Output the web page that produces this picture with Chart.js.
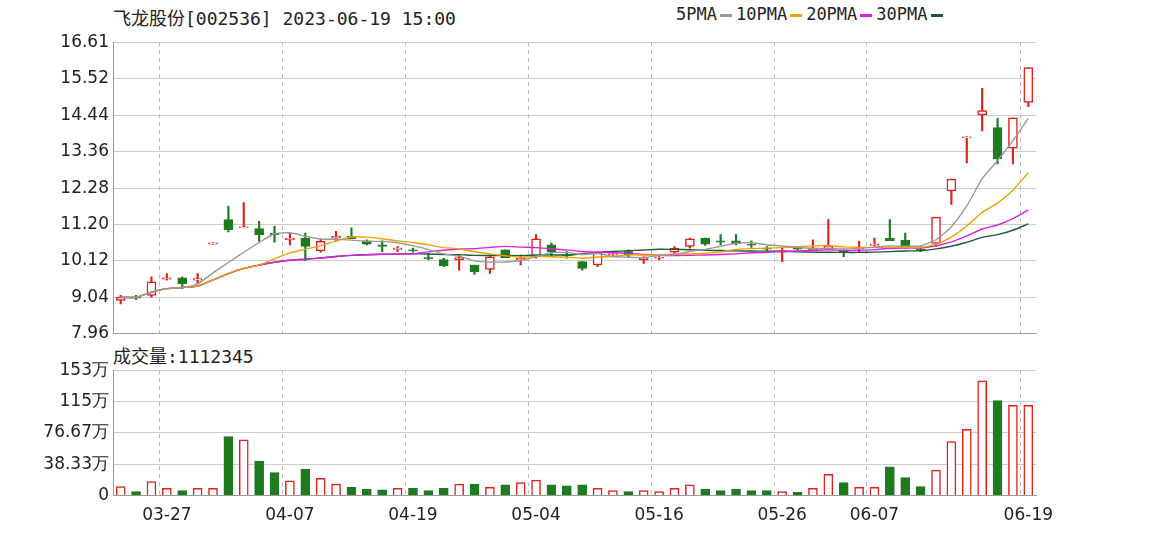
<!DOCTYPE html>
<html><head><meta charset="utf-8">
<script src="https://cdn.jsdelivr.net/npm/chart.js@4"></script>
<style>
body{margin:0;background:#fff;width:1156px;height:552px;position:relative;overflow:hidden;font-family:"Noto Sans CJK SC","DejaVu Sans",sans-serif}
#c1{position:absolute;left:0;top:28px}
#c2{position:absolute;left:0;top:356px}
.t{position:absolute;font-size:18px;color:#222;white-space:nowrap}
.d{display:inline-block;width:12px;height:3px;vertical-align:middle;margin:0 4px 0 3px}
</style></head><body>
<div class="t" style="left:113px;top:4px;font-family:'DejaVu Sans Mono','Noto Sans CJK SC';font-size:18px">飞龙股份[002536] 2023-06-19 15:00</div>
<div class="t" style="left:676px;top:4px;font-family:'DejaVu Sans Mono';font-size:17px">5PMA<span class="d" style="background:#999"></span>10PMA<span class="d" style="background:#f0a000"></span>20PMA<span class="d" style="background:#e020e0"></span>30PMA<span class="d" style="background:#1a5c3a"></span></div>
<div class="t" style="left:113px;top:342px;font-family:'DejaVu Sans Mono','Noto Sans CJK SC';font-size:18px">成交量:1112345</div>
<canvas id="c1" width="1156" height="320"></canvas>
<canvas id="c2" width="1156" height="192"></canvas>
<script>
const dates = ["03-22","03-23","03-24","03-27","03-28","03-29","03-30","03-31","04-03","04-04","04-06","04-07","04-10","04-11","04-12","04-13","04-14","04-17","04-18","04-19","04-20","04-21","04-24","04-25","04-26","04-27","04-28","05-04","05-05","05-08","05-09","05-10","05-11","05-12","05-15","05-16","05-17","05-18","05-19","05-22","05-23","05-24","05-25","05-26","05-29","05-30","05-31","06-01","06-02","06-07","06-05","06-06","06-08","06-09","06-12","06-13","06-14","06-15","06-16","06-19"];
const shownLabels = {3:"03-27",11:"04-07",19:"04-19",27:"05-04",35:"05-16",43:"05-26",49:"06-07",59:"06-19"};
const openP  = [8.95,9.05,9.10,9.58,9.62,9.55,10.62,11.35,11.10,11.08,10.95,10.75,10.80,10.42,10.80,10.85,10.72,10.60,10.46,10.45,10.22,10.16,10.15,10.00,9.87,10.45,10.15,10.25,10.60,10.30,10.10,10.00,10.31,10.40,10.15,10.20,10.38,10.55,10.80,10.72,10.72,10.62,10.50,10.38,10.50,10.45,10.48,10.42,10.48,10.58,10.80,10.74,10.48,10.64,12.20,13.77,14.45,14.08,13.47,14.82];
const closeP = [9.05,9.03,9.50,9.62,9.45,9.60,10.66,11.05,11.13,10.90,10.90,10.80,10.55,10.70,10.86,10.78,10.62,10.55,10.50,10.42,10.20,9.98,10.22,9.80,10.24,10.22,10.20,10.78,10.40,10.27,9.90,10.36,10.33,10.30,10.22,10.21,10.50,10.78,10.62,10.68,10.63,10.60,10.48,10.43,10.47,10.50,10.58,10.40,10.52,10.62,10.72,10.52,10.47,11.42,12.55,13.80,14.58,13.15,14.37,15.86];
const highP  = [9.10,9.10,9.65,9.75,9.65,9.75,10.66,11.75,11.85,11.30,11.15,10.95,10.95,10.78,11.00,11.10,10.75,10.72,10.55,10.50,10.35,10.20,10.30,10.00,10.30,10.45,10.30,10.90,10.65,10.40,10.10,10.40,10.40,10.45,10.25,10.30,10.55,10.80,10.80,10.90,10.90,10.72,10.55,10.50,10.55,10.75,11.35,10.45,10.70,10.80,11.35,10.95,10.55,11.42,12.55,13.80,15.24,14.35,14.37,15.86];
const lowP   = [8.85,8.98,9.05,9.55,9.30,9.45,10.62,10.98,11.10,10.70,10.68,10.60,10.13,10.38,10.70,10.78,10.60,10.40,10.40,10.38,10.15,9.95,9.85,9.72,9.75,10.22,10.00,10.20,10.25,10.20,9.85,9.95,10.25,10.25,10.05,10.15,10.35,10.50,10.58,10.60,10.60,10.52,10.42,10.10,10.45,10.45,10.45,10.25,10.40,10.55,10.72,10.50,10.40,10.55,11.80,13.03,13.98,13.00,13.00,14.70];
const volume = [11,5,17,9,6,9,9,72,68,42,28,18,32,21,14,10,8,7,9,9,6,9,14,14,10,13,16,19,13,12,13,9,6,5,6,5,9,13,8,6,8,6,6,5,4,9,26,16,10,10,35,22,11,31,66,81,140,116,110,110];
const priceTicks = [7.96,9.04,10.12,11.20,12.28,13.36,14.44,15.52,16.61];
const volTicks = [0,38.33,76.67,115,153];

const RED="#e0201a", GREEN="#1e7a1e";
const up = openP.map((o,i)=>closeP[i]>=o);
const col = up.map(u=>u?RED:GREEN);
function ma(n){return closeP.map((_,i)=>{const s=closeP.slice(Math.max(0,i-n+1),i+1);return s.reduce((a,b)=>a+b,0)/s.length;});}
const font={family:"DejaVu Sans",size:17};
const xCommon = (show)=>({type:"category",offset:true,
  grid:{color:(c)=> shownLabels[c.index]!==undefined ? "#bbb":"transparent", drawTicks:false},
  border:{display:true,color:"#999",dash:[4,4]},
  ticks:{display:show,autoSkip:false,maxRotation:0,color:"#222",font,padding:10,callback:(v,i)=>shownLabels[i]||""}});
const lineDs=(d,c)=>({type:"line",data:d,borderColor:c,borderWidth:1.4,pointRadius:0,tension:0.2,order:0});
new Chart(document.getElementById("c1"),{
  data:{labels:dates,datasets:[
    lineDs(ma(5),"#999"),lineDs(ma(10),"#f0a000"),lineDs(ma(20),"#e020e0"),lineDs(ma(30),"#1a5c3a"),
    {type:"bar",data:lowP.map((l,i)=>[l,highP[i]]),backgroundColor:col,barThickness:1.5,grouped:false,order:2},
    {type:"bar",data:openP.map((o,i)=>[o,Math.abs(closeP[i]-o)<0.03?o+(closeP[i]>=o?0.03:-0.03):closeP[i]]),backgroundColor:up.map(u=>u?"#fff":GREEN),borderColor:col,borderWidth:1.5,borderSkipped:false,barThickness:9,grouped:false,order:1}
  ]},
  options:{responsive:false,animation:false,layout:{padding:{left:0,right:120,top:4,bottom:0}},
    plugins:{legend:{display:false},tooltip:{enabled:false}},
    scales:{x:xCommon(false),
      y:{min:7.96,max:16.61,afterBuildTicks:a=>{a.ticks=priceTicks.map(v=>({value:v}))},
        afterFit:a=>{a.width=113},grid:{color:"#ccc",drawTicks:false},border:{color:"#999"},
        ticks:{color:"#222",font,padding:4,callback:v=>v.toFixed(2)}}}}
});
new Chart(document.getElementById("c2"),{
  data:{labels:dates,datasets:[
    {type:"bar",data:volume,backgroundColor:up.map(u=>u?"#fff":GREEN),borderColor:col,borderWidth:1.5,barThickness:9}
  ]},
  options:{responsive:false,animation:false,layout:{padding:{left:0,right:120,top:14,bottom:12}},
    plugins:{legend:{display:false},tooltip:{enabled:false}},
    scales:{x:xCommon(true),
      y:{min:0,max:153,afterBuildTicks:a=>{a.ticks=volTicks.map(v=>({value:v}))},
        afterFit:a=>{a.width=113},grid:{color:"#ccc",drawTicks:false},border:{color:"#999"},
        ticks:{color:"#222",font,padding:4,callback:v=>v===0?"0":(v+"万")}}}}
});
</script></body></html>
